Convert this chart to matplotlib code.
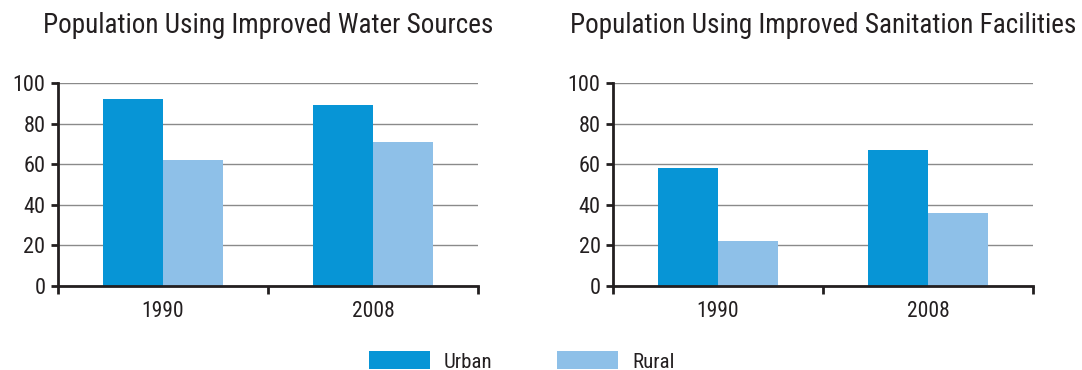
import matplotlib
matplotlib.use("Agg")
import matplotlib.pyplot as plt
from matplotlib.patches import Patch
import numpy as np

plt.rcParams['font.family'] = ['Roboto Condensed', 'Liberation Sans Narrow', 'DejaVu Sans']

years = ["1990", "2008"]
series = ["Urban", "Rural"]
water_urban = [92, 89]
water_rural = [62, 71]
sanit_urban = [58, 67]
sanit_rural = [22, 36]
titles = ["Population Using Improved Water Sources",
          "Population Using Improved Sanitation Facilities"]

c_urban = "#0795d6"
c_rural = "#8ec0e8"
txt = "#231f20"

fig = plt.figure(figsize=(10.82, 3.70), dpi=100)
ax_w = 420 / 1082
ax_h = (286 - 83) / 370
bottom = 1 - 286 / 370
axes = [fig.add_axes([58 / 1082, bottom, ax_w, ax_h]),
        fig.add_axes([613 / 1082, bottom, ax_w, ax_h])]

data = [(water_urban, water_rural), (sanit_urban, sanit_rural)]
x = np.arange(len(years))
bw = 60 / 210

for ax, (u, r), title in zip(axes, data, titles):
    ax.bar(x - bw / 2, u, width=bw, color=c_urban, zorder=2)
    ax.bar(x + bw / 2, r, width=bw, color=c_rural, zorder=2)
    ax.set_xlim(-0.5, len(years) - 0.5)
    ax.set_ylim(0, 100)
    ax.set_yticks(range(0, 101, 20))
    ax.set_xticks(x)
    ax.set_xticklabels(years)
    ax.set_xticks(np.arange(-0.5, len(years), 1.0), minor=True)
    ax.tick_params(axis='x', which='major', length=0, pad=11,
                   labelsize=15.5, labelcolor=txt)
    ax.tick_params(axis='x', which='minor', length=6, width=2, color=txt,
                   direction='out')
    ax.tick_params(axis='y', length=5, width=2, color=txt, pad=4,
                   labelsize=16, labelcolor=txt)
    ax.yaxis.grid(True, color="#8a8a8a", linewidth=1, zorder=0)
    ax.set_axisbelow(True)
    for s in ("top", "right"):
        ax.spines[s].set_visible(False)
    for s in ("left", "bottom"):
        ax.spines[s].set_linewidth(2)
        ax.spines[s].set_color(txt)
        ax.spines[s].set_zorder(3)
    ax.set_title(title, fontsize=19.5, color=txt, pad=36)

handles = [Patch(facecolor=c_urban), Patch(facecolor=c_rural)]
fig.legend(handles, series, loc="lower center", ncol=2, frameon=False,
           bbox_to_anchor=(0.482, -0.055), handlelength=2.93, handleheight=0.95,
           handletextpad=0.67, columnspacing=3.1, fontsize=15,
           labelcolor=txt)

fig.savefig("out.png", dpi=100)
